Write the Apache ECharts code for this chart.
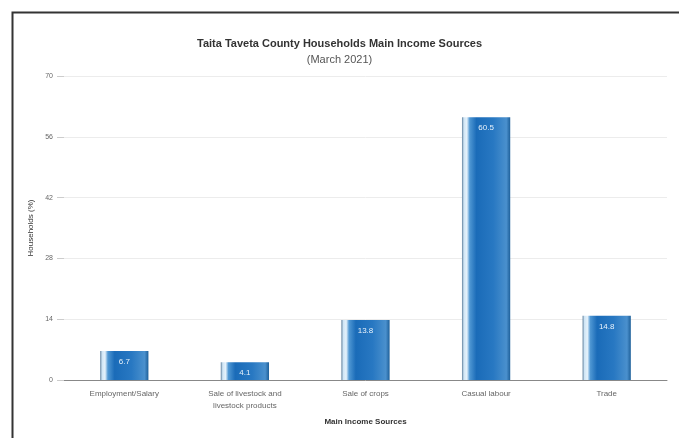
<!DOCTYPE html>
<html>
<head>
<meta charset="utf-8">
<script src="https://cdn.jsdelivr.net/npm/echarts@6/dist/echarts.min.js"></script>
<style>
  html, body { margin: 0; padding: 0; background: #fff; }
  #chart { width: 679px; height: 438px; }
</style>
</head>
<body>
<div id="chart"></div>
<script>
// Main income sources of households, Taita Taveta County, March 2021
const categories = ['Employment/Salary', 'Sale of livestock and\nlivestock products', 'Sale of crops', 'Casual labour', 'Trade'];
const households = [6.7, 4.1, 13.8, 60.5, 14.8];
const yTicks = [0, 14, 28, 42, 56, 70];

const font = 'Liberation Sans, Arial, sans-serif';

const barFill = new echarts.graphic.LinearGradient(0, 0, 1, 0, [
  { offset: 0.00, color: '#5f7f9c' },
  { offset: 0.04, color: '#cfe5f5' },
  { offset: 0.10, color: '#e6f2fb' },
  { offset: 0.16, color: '#4f97d3' },
  { offset: 0.30, color: '#1a6bb8' },
  { offset: 0.65, color: '#2878c2' },
  { offset: 0.92, color: '#4a90cd' },
  { offset: 1.00, color: '#1d5f99' }
]);

const chart = echarts.init(document.getElementById('chart'), null, { renderer: 'canvas' });
chart.setOption({
  animation: false,
  backgroundColor: '#fff',
  title: {
    text: 'Taita Taveta County Households Main Income Sources',
    subtext: '(March 2021)',
    left: 'center',
    top: 33,
    itemGap: 5,
    textStyle: { fontFamily: font, fontSize: 11, fontWeight: 'bold', color: '#333' },
    subtextStyle: { fontFamily: font, fontSize: 11, color: '#555' }
  },
  graphic: [{
    type: 'rect',
    shape: { x: 12.5, y: 12.5, width: 720, height: 480 },
    style: { fill: 'none', stroke: '#333', lineWidth: 2 },
    silent: true
  }],
  grid: { left: 64, right: 12, top: 76, bottom: 58 },
  xAxis: {
    type: 'category',
    data: categories,
    name: 'Main Income Sources',
    nameLocation: 'middle',
    nameGap: 38,
    nameTextStyle: { fontFamily: font, fontSize: 8, fontWeight: 'bold', color: '#333' },
    axisLine: { show: true, lineStyle: { color: '#888', width: 1 } },
    axisTick: { show: false },
    axisLabel: { fontFamily: font, fontSize: 8, color: '#666', margin: 8, lineHeight: 12, interval: 0 }
  },
  yAxis: {
    type: 'value',
    min: yTicks[0],
    max: yTicks[yTicks.length - 1],
    interval: yTicks[1] - yTicks[0],
    name: 'Households (%)',
    nameLocation: 'middle',
    nameGap: 17,
    nameTextStyle: { fontFamily: font, fontSize: 8, color: '#333' },
    axisLine: { show: false },
    axisTick: { show: true, length: 7, lineStyle: { color: '#ccc' } },
    axisLabel: { fontFamily: font, fontSize: 7, color: '#666', margin: 11 },
    splitLine: { lineStyle: { color: '#ececec', width: 1 } }
  },
  series: [{
    type: 'bar',
    data: households,
    barWidth: '40%',
    itemStyle: { color: barFill },
    label: {
      show: true,
      position: 'insideTop',
      distance: 7,
      fontFamily: font,
      fontSize: 8,
      color: '#e8f2fb'
    }
  }]
});
</script>
</body>
</html>
